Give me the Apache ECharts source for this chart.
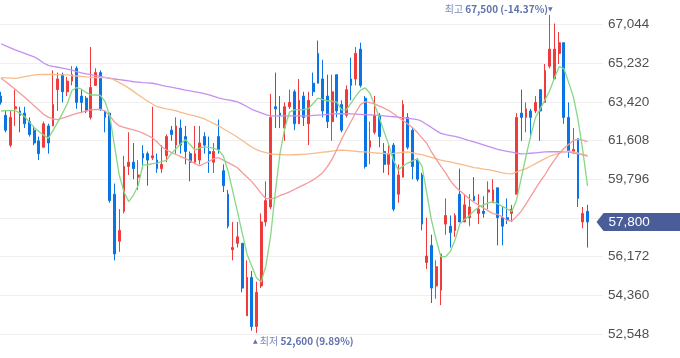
<!DOCTYPE html>
<html><head><meta charset="utf-8">
<script src="https://cdn.jsdelivr.net/npm/echarts/dist/echarts.min.js"></script>
<style>html,body{margin:0;padding:0;background:#fff}#c{width:680px;height:358px}</style>
</head><body><div id="c"></div>
<script>
const opens = [63700,62800,61400,63100,63000,62900,62500,62100,61600,61300,
62300,62300,64000,64700,63900,64400,65000,63700,63600,62700,
64200,64800,63000,62900,59100,56900,58300,60400,60600,59900,
61000,61000,60800,60700,60300,60900,62100,61400,62200,61800,
61000,60600,60700,61800,61100,60600,61800,60200,59100,56500,
56800,56800,53400,55200,52900,54800,57800,58500,63200,62900,
62200,63200,63900,62400,63700,62400,64300,65700,64500,63700,
62500,64700,63300,62800,64500,64500,65900,63600,61300,62000,
62800,61100,60500,61400,59100,59900,62700,62100,60700,60000,
55900,56700,54800,54600,57700,57600,57400,59100,57800,58000,
59000,58200,58300,59200,58700,59400,58000,58000,58200,59100,
62900,62700,63000,63000,64000,63400,65100,64500,65700,66200,
62700,61100,61700,57800,58300];
const closes = [63400,62100,62700,63200,62800,62400,61900,61500,61000,62400,
61500,63300,64500,63900,64400,64700,63400,63400,63000,64100,
64800,63100,62700,58800,56300,57400,60400,60600,60300,60000,
60800,60700,60900,60300,60500,61800,61900,62300,61400,61100,
60600,61000,61500,61400,61000,61100,61200,59500,57600,56600,
57100,54700,55200,52900,54500,57800,58800,62700,63100,62800,
63200,63400,62400,63500,62700,63500,63900,64300,63000,62500,
63900,63000,62100,64000,64200,65700,64200,60400,61600,62800,
61800,60500,61000,58400,60000,63300,61300,60400,59800,57700,
56200,54700,55700,56300,58100,57300,58100,57800,58600,58500,
58800,58400,58200,59300,59300,58000,57600,57900,58400,62700,
62700,63100,62700,63400,63000,64900,65900,65900,66200,62700,
61100,61200,58900,58200,57800];
const lows = [63300,62000,61300,62300,62000,62200,61800,61400,60700,61300,
61000,62300,63000,63400,63700,64200,63100,62900,62900,62600,
64200,63000,62000,58700,56000,56400,58200,60000,59800,59300,
60300,59500,60700,60100,60100,60600,61600,61000,61000,60500,
59700,60500,60500,61000,60100,60100,61000,59200,57500,56000,
56600,54500,53400,52700,52600,54700,57600,58400,62200,62200,
61600,63100,62100,62400,62300,61400,63700,64300,62700,62200,
61600,62700,62000,62700,63500,64200,64100,60300,60500,61900,
61300,60100,60000,58300,58700,59900,61200,59800,59700,57400,
55600,54000,54200,53900,57200,56600,57100,57800,57800,57600,
58800,57700,58000,58400,58700,56700,56700,57700,57800,59100,
61600,62000,61700,62900,61600,63400,65000,64500,65200,62400,
60800,61000,58500,57500,56600];
const highs = [63900,63000,63000,64000,63200,63200,62700,62300,61800,62500,
62400,64900,64800,64800,64600,65100,65100,64000,63700,66000,
65000,64900,63000,62900,59600,58400,60900,62000,61500,60700,
61400,61100,63200,61000,61400,61900,62300,62700,62600,62300,
61100,62300,62300,62000,61800,61500,62600,60500,59300,57800,
57800,56800,56000,55500,55000,58200,59700,63800,64800,63700,
63400,64000,64000,64500,63900,63900,64800,66300,65400,64700,
64700,64700,63500,64200,65500,66000,66200,63700,62500,63700,
62900,61500,61400,61500,60500,63500,62900,62200,60800,60100,
58000,57200,56000,56300,58900,58100,58200,60300,59100,59100,
59900,59100,59000,59700,59800,59400,58500,58900,58600,62900,
64000,63400,63100,63700,64000,65200,67500,67100,66700,66200,
63400,62200,61700,58500,58600];
const ma5 = [63000,63020,63030,63010,62900,62740,62480,62230,62040,61870,
61720,62090,62480,62890,63340,63960,64100,64020,63870,63750,
63750,63730,63440,62770,61360,60000,59210,58750,59060,59510,
60470,60480,60530,60560,60630,60700,61000,61230,61460,61660,
61420,61170,61260,61320,61290,61250,61170,60890,60190,59230,
58270,57280,56300,55740,55180,54990,55740,57140,59210,61030,
62200,62950,63050,63050,63070,63110,63350,63600,63530,63480,
63460,63420,63050,63050,63370,63700,63980,64080,63830,63280,
62670,62020,61410,60680,60240,60420,60560,60660,60760,60420,
59160,57890,56960,56170,56170,56420,56960,57710,57910,58090,
58320,58490,58600,58690,58750,58650,58530,58410,58290,58830,
59860,60890,61850,62700,63100,63520,63950,64550,65080,64990,
64340,63670,62580,61130,59490];
const ma20 = [64530,64370,64200,64020,63830,63640,63450,63250,63050,62850,
62710,62630,62600,62670,62740,62820,62890,62940,63000,63050,
63070,63080,63000,62780,62480,62300,62230,62170,62110,62050,
61960,61850,61740,61550,61320,61170,61060,60960,60860,60770,
60660,60540,60430,60540,60640,60770,60810,60700,60580,60460,
60340,60120,59910,59690,59430,59140,58900,58880,58930,59040,
59120,59210,59320,59430,59540,59650,59770,59930,60110,60390,
60740,61190,61680,62100,62510,62930,63300,63440,63390,63330,
63230,63130,63020,62870,62710,62550,62390,62220,62000,61740,
61490,61080,60740,60400,60100,59740,59460,59260,59070,58890,
58720,58590,58460,58320,58190,58150,58040,57870,57840,58060,
58310,58650,59000,59360,59700,60010,60380,60700,61010,61240,
61430,61620,61670,61630,61560];
const ma60 = [64560,64550,64540,64530,64560,64610,64650,64690,64700,64710,
64720,64710,64700,64690,64690,64660,64640,64620,64600,64590,
64570,64560,64560,64560,64450,64330,64210,64070,63920,63760,
63610,63460,63330,63200,63150,63100,63060,63000,62940,62880,
62820,62770,62700,62630,62520,62410,62300,62170,62040,61910,
61770,61620,61460,61310,61190,61110,61050,60990,60970,60960,
60940,60940,60950,60960,60970,60990,61010,61040,61070,61090,
61120,61150,61170,61150,61130,61110,61090,61080,61060,61040,
61020,61010,60990,61010,61040,61070,61080,61040,60990,60950,
60890,60830,60760,60700,60650,60610,60560,60510,60460,60400,
60350,60320,60280,60250,60210,60160,60100,60060,60050,60140,
60230,60300,60410,60530,60650,60770,60880,60960,61020,61090,
61120,61080,61020,60970,60920];
const ma120 = [66150,66050,65960,65860,65780,65700,65620,65540,65410,65250,
65140,65090,65050,65010,64960,64910,64850,64790,64740,64700,
64660,64620,64570,64530,64500,64470,64440,64410,64370,64350,
64330,64320,64300,64260,64200,64150,64120,64070,64030,63980,
63940,63900,63860,63810,63750,63680,63610,63560,63520,63480,
63430,63320,63210,63080,62990,62910,62830,62770,62770,62770,
62770,62770,62770,62770,62770,62770,62790,62810,62820,62840,
62860,62870,62880,62870,62860,62850,62840,62830,62820,62810,
62790,62770,62750,62730,62710,62690,62660,62630,62600,62510,
62370,62230,62080,61950,61890,61850,61810,61750,61680,61610,
61550,61480,61410,61340,61270,61200,61150,61110,61070,61020,
60990,61000,61020,61040,61060,61080,61090,61090,61090,61090,
61080,61030,60990,60940,60890];
const yMin = 52548, yMax = 67044, yStep = 1812;

const N = opens.length;
const categories = opens.map((_, i) => String(i + 1));
const candleData = opens.map((o, i) => [o, closes[i], lows[i], highs[i]]);
let maxIdx = 0, minIdx = 0;
for (let i = 0; i < N; i++) {
  if (highs[i] > highs[maxIdx]) maxIdx = i;
  if (lows[i] < lows[minIdx]) minIdx = i;
}
const last = closes[N - 1];
const fmt = v => Math.round(v).toLocaleString('en-US');
const pctHigh = ((last / highs[maxIdx] - 1) * 100).toFixed(2);
const pctLow = ((last / lows[minIdx] - 1) * 100).toFixed(2);

const RED = '#ef3b3b', BLUE = '#0b74e5';
const NUMFONT = "'Liberation Sans Narrow','Liberation Sans',sans-serif";
const KRFONT = "'Noto Sans CJK KR','Noto Sans',sans-serif";
const C_LIGHT = '#7c8bbd', C_BOLD = '#5f72ab';
const annRich = {
  a: {color: C_LIGHT, fill: C_LIGHT, fontSize: 10, fontFamily: KRFONT},
  b: {color: C_BOLD, fill: C_BOLD, fontSize: 10, fontWeight: 'bold', fontFamily: KRFONT},
  t: {color: C_BOLD, fill: C_BOLD, fontSize: 6, fontFamily: 'DejaVu Sans'}
};

function maLine(name, data, color) {
  return {name, type: 'line', xAxisIndex: 0, yAxisIndex: 0, data, showSymbol: false, symbol: 'none',
    clip: false, silent: true, lineStyle: {width: 1.3, color}, itemStyle: {color}, z: 3};
}

const chart = echarts.init(document.getElementById('c'), null, {renderer: 'canvas'});
chart.setOption({
  animation: false,
  backgroundColor: '#fff',
  grid: [
    {left: -1.365, right: 90.1, top: 24.7, bottom: 24, outerBoundsMode: 'none'},
    {left: 0, right: 77, top: 24.7, bottom: 24, outerBoundsMode: 'none'}
  ],
  xAxis: [
    {type: 'category', gridIndex: 0, data: categories, boundaryGap: true, show: false},
    {type: 'value', gridIndex: 1, min: 0, max: 1, show: false}
  ],
  yAxis: [
    {type: 'value', gridIndex: 0, min: yMin, max: yMax, interval: yStep, show: false},
    {type: 'value', gridIndex: 1, position: 'right', min: yMin, max: yMax, interval: yStep,
      axisLine: {show: false}, axisTick: {show: false},
      splitLine: {show: true, lineStyle: {color: '#efefef', width: 1}},
      axisLabel: {show: true, margin: 5, showMinLabel: true, showMaxLabel: true,
        color: '#505050', fontSize: 13.5, fontFamily: NUMFONT,
        formatter: v => Math.abs(v - last) < yStep / 2 ? '' : fmt(v)}}
  ],
  series: [
    {type: 'candlestick', xAxisIndex: 0, yAxisIndex: 0, data: candleData, barWidth: 2.3, clip: false,
      itemStyle: {color: RED, color0: BLUE, borderColor: RED, borderColor0: BLUE, borderWidth: 1},
      markPoint: {
        animation: false,
        data: [
          {coord: [minIdx, lows[minIdx]], symbol: 'rect', symbolSize: 1, itemStyle: {color: 'rgba(0,0,0,0)'},
            label: {show: true, position: [-3, 9], align: 'left', verticalAlign: 'middle',
              formatter: '{t|▲}{a| 최저 }{b|' + fmt(lows[minIdx]) + ' (' + pctLow + '%)}', rich: annRich}},
          {coord: [N - 1, last], symbol: 'path://M0,9L7,0L90,0L90,18L7,18Z', symbolSize: [90, 18],
            symbolOffset: [54, 0], symbolKeepAspect: false, itemStyle: {color: '#4a5d99'},
            label: {show: true, position: [12, 9], align: 'left', verticalAlign: 'middle',
              color: '#fff', fontSize: 13.5, fontFamily: NUMFONT, formatter: fmt(last)}}
        ]
      }
    },
    maLine('MA120', ma120, '#c490f2'),
    maLine('MA60', ma60, '#f8bb8a'),
    maLine('MA20', ma20, '#f59a9a'),
    maLine('MA5', ma5, '#86d884')
  ]
});

// the highest point lies above the axis max, so it is annotated through the axis' own scale
const pHigh = chart.convertToPixel({xAxisIndex: 0, yAxisIndex: 0}, [maxIdx, highs[maxIdx]]);
chart.setOption({
  graphic: [{
    type: 'text', x: pHigh[0] + 3, y: pHigh[1] - 6, z: 10, silent: true,
    style: {
      text: '{a|최고 }{b|' + fmt(highs[maxIdx]) + ' (' + pctHigh + '%)}{t|▼}',
      rich: annRich, align: 'right', verticalAlign: 'middle'
    }
  }]
});
</script>
</body></html>
